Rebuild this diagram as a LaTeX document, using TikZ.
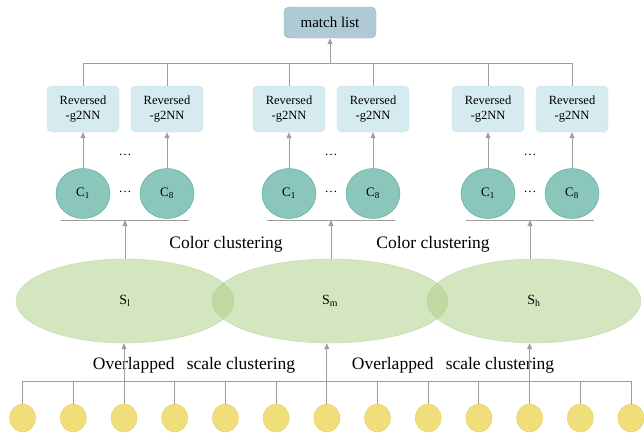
\documentclass[tikz,border=0pt]{standalone}
\usepackage{fontspec}
\setmainfont{Liberation Serif}
\usepackage{tikz}
\usetikzlibrary{
  shapes.geometric, arrows.meta, positioning, calc
}
\usepackage{xcolor}
\definecolor{matchfill}{RGB}{174,203,213}
\definecolor{matchline}{RGB}{141,180,194}
\definecolor{revfill}{RGB}{214,235,240}
\definecolor{revline}{RGB}{194,222,230}
\definecolor{tealfill}{RGB}{138,198,186}
\definecolor{tealline}{RGB}{74,168,148}
\definecolor{blobfill}{RGB}{170,205,130}
\definecolor{blobline}{RGB}{175,208,145}
\definecolor{dotfill}{RGB}{240,222,122}
\definecolor{dotline}{RGB}{228,205,95}
\definecolor{linegray}{RGB}{158,158,158}
\tikzset{
  basebox/.style={
    rectangle, rounded corners=5pt, align=center, inner sep=0pt
  },
  matchbox/.style={basebox, fill=matchfill, draw=matchline, minimum width=92pt, minimum height=31pt, font=\fontsize{15}{18}\selectfont},
  revbox/.style={basebox, fill=revfill, draw=revline, minimum width=72pt, minimum height=46pt, font=\fontsize{12.5}{14.5}\selectfont},
  colorball/.style={ellipse, fill=tealfill, draw=tealline, minimum width=54pt, minimum height=50pt, inner sep=0pt, font=\fontsize{13}{15}\selectfont},
  scaleblob/.style={ellipse, fill=blobfill, fill opacity=0.5, draw=blobline, draw opacity=0.7, text opacity=1, minimum height=84pt, inner sep=0pt, font=\fontsize{14}{16}\selectfont},
  pixdot/.style={ellipse, fill=dotfill, draw=dotline, minimum width=26pt, minimum height=28pt, inner sep=0pt},
  steplabel/.style={inner sep=0pt, font=\fontsize{17.5}{20}\selectfont},
  dotsym/.style={inner sep=0pt, font=\fontsize{13}{15}\selectfont},
  wire/.style={draw=linegray, line width=1pt},
  arrow/.style={-{Triangle[length=6pt,width=5pt]}, draw=linegray, fill=linegray, line width=1pt}
}

\begin{document}
\begin{tikzpicture}[x=1pt,y=-1pt]
  \useasboundingbox (0,0) rectangle (644,432);
  % top: match list
  \node[matchbox] (ml) at (330,22.5) {match list};
  \coordinate (top) at (330,63);
  % three colour groups
  \foreach \g/\xa/\xb in {1/83/167, 2/289/373, 3/488/572} {
    \node[revbox] (r\g a) at (\xa,109) {Reversed\\-g2NN};
    \node[revbox] (r\g b) at (\xb,109) {Reversed\\-g2NN};
    \node[colorball] (c\g a) at (\xa,193.5) {C\textsubscript{1}};
    \node[colorball] (c\g b) at (\xb,193.5) {C\textsubscript{8}};
    \node[dotsym] (d\g a) at ({(\xa+\xb)/2},155) {\ldots};
    \node[dotsym] (d\g b) at ({(\xa+\xb)/2},192) {\ldots};
    \coordinate (u\g) at ({(\xa+\xb)/2},220);
    \draw[wire] ($(c\g a.south |- u\g)+(-22,0)$) -- ($(c\g b.south |- u\g)+(22,0)$);
    \draw[arrow] (c\g a) -- (r\g a);
    \draw[arrow] (c\g b) -- (r\g b);
    \draw[wire] (r\g a.north) -- (r\g a.north |- top);
    \draw[wire] (r\g b.north) -- (r\g b.north |- top);
  }
  \draw[wire] (r1a.north |- top) -- (r3b.north |- top);
  \draw[arrow] (top) -- (ml);
  % scale clusters
  \node[scaleblob, minimum width=218pt] (sl) at (125,301) {\raisebox{-3pt}{S\textsubscript{l}}};
  \node[scaleblob, minimum width=236pt] (sm) at (330,301) {\raisebox{-3pt}{S\textsubscript{m}}};
  \node[scaleblob, minimum width=214pt] (sh) at (534,301) {\raisebox{-3pt}{S\textsubscript{h}}};
  \draw[arrow] (sl.north -| u1) -- (u1);
  \draw[arrow] (sm.north -| u2) -- (u2);
  \draw[arrow] (sh.north -| u3) -- (u3);
  \node[steplabel] (cc1) at (226,244) {Color clustering};
  \node[steplabel] (cc2) at (433,244) {Color clustering};
  \node[steplabel] (oc1) at (194,365) {Overlapped\hspace{0.7em}scale clustering};
  \node[steplabel] (oc2) at (453,365) {Overlapped\hspace{0.7em}scale clustering};
  % pixels
  \coordinate (bus) at (327,381);
  \foreach \i in {0,...,12} {
    \node[pixdot] (p\i) at ({22.6+50.7*\i},418) {};
  }
  \foreach \i in {0,1,3,4,5,7,8,9,11,12} {
    \draw[wire] (p\i.north) -- (p\i.north |- bus);
  }
  \draw[wire] (p0.north |- bus) -- (p12.north |- bus);
  \draw[arrow] (p2.north) -- (p2.north |- sl.south);
  \draw[arrow] (p6.north) -- (p6.north |- sm.south);
  \draw[arrow] (p10.north) -- (p10.north |- sh.south);
\end{tikzpicture}
\end{document}
